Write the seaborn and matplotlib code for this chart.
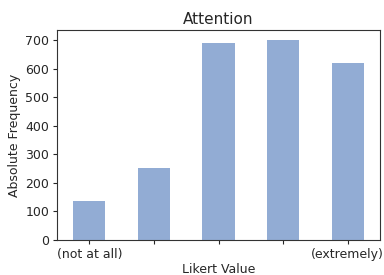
import seaborn as sns
import matplotlib.pyplot as plt
import pandas as pd

likert = [1, 2, 3, 4, 5]
counts = [136, 251, 689, 700, 619]
tick_labels = ["(not at all)", "", "", "", "(extremely)"]

df = pd.DataFrame({"likert": likert, "count": counts})

plt.rcParams["text.color"] = "#262626"
plt.rcParams["axes.labelcolor"] = "#262626"
plt.rcParams["xtick.color"] = "#262626"
plt.rcParams["ytick.color"] = "#262626"

fig, ax = plt.subplots(figsize=(3.84, 2.75), dpi=100)
sns.barplot(x="likert", y="count", data=df, color="#92acd4", saturation=1,
            width=0.5, ax=ax)
ax.set_xlim(-0.5, 4.5)
ax.set_ylim(0, 735)
ax.set_yticks(range(0, 701, 100))
ax.set_xticks(range(len(likert)))
ax.set_xticklabels(tick_labels)
ax.set_title("Attention", fontsize=11, pad=4)
ax.set_xlabel("Likert Value", fontsize=9, labelpad=2)
ax.set_ylabel("Absolute Frequency", fontsize=9, labelpad=3)
ax.tick_params(labelsize=9, length=3, pad=2.5)
for s in ax.spines.values():
    s.set_color("#333333")
fig.subplots_adjust(left=57 / 384, right=380 / 384, top=1 - 30 / 275,
                    bottom=1 - 240 / 275)
plt.savefig("out.png")
